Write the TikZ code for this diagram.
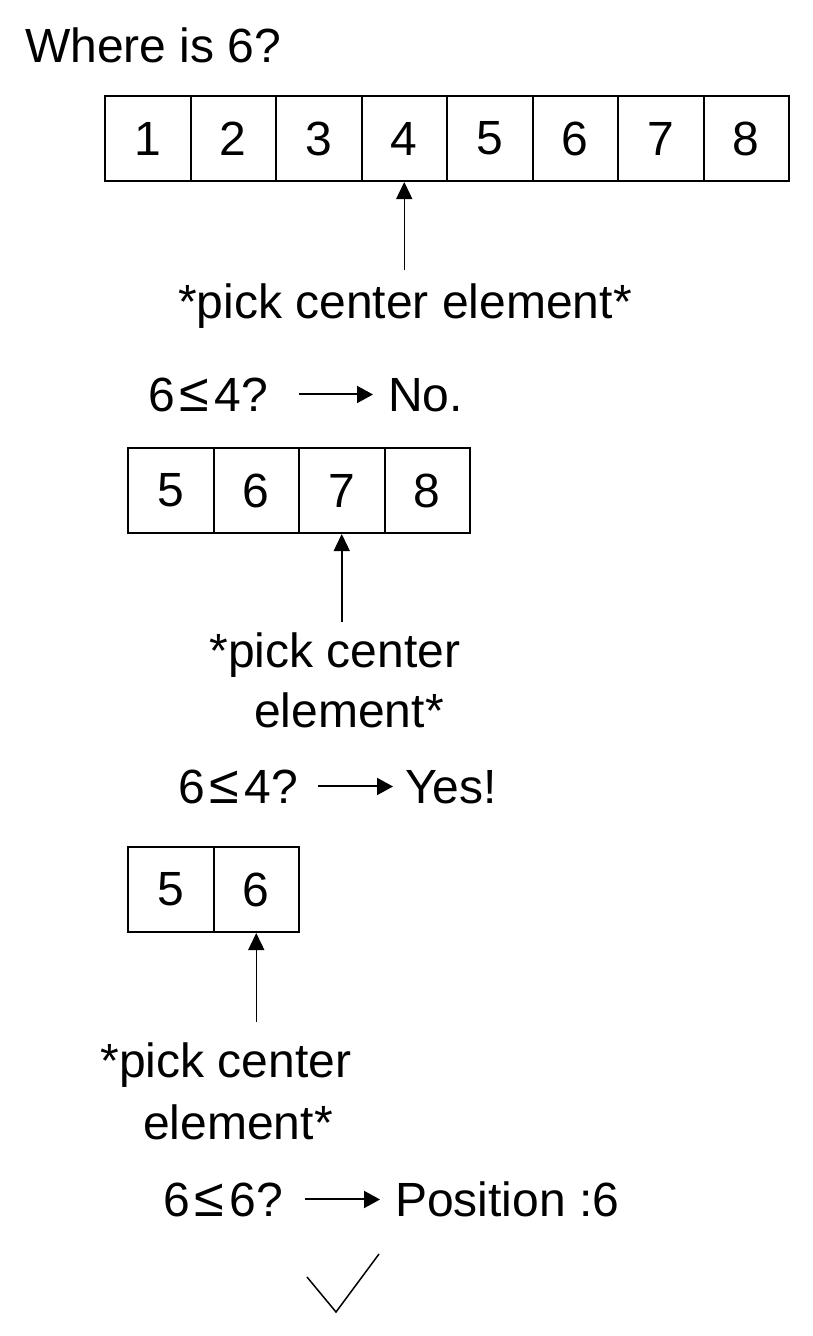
\documentclass[tikz,border=0pt]{standalone}
\usepackage{fontspec}
\setmainfont{Liberation Sans}
\usetikzlibrary{arrows.meta,calc}
\newcommand{\myleq}{\hspace{5pt}{\fontsize{54}{60}\selectfont ≤}\hspace{5pt}}
\begin{document}
\begin{tikzpicture}[x=1pt,y=-1pt,
  txt/.style={inner sep=0pt, font=\fontsize{48}{60}\selectfont},
  cell/.style={draw, line width=2pt, minimum width=85.5pt, minimum height=85pt, inner sep=0pt, font=\fontsize{48}{60}\selectfont},
  uparr/.style={line width=1.5pt, -{Triangle[length=17pt,width=16pt]}},
  rarr/.style={line width=2pt, -{Triangle[length=16pt,width=17pt]}},
]
\fill[white] (0,0) rectangle (813,1336);
\useasboundingbox (0,0) rectangle (813,1336);

\node[txt, anchor=base west] (title) at (25,62) {Where is 6?};

% row 1
\foreach \i in {1,...,8} {
  \node[cell] (a\i) at ({105+85.5*(\i-0.5)},138.5) {\i};
}
\node[txt, anchor=base] (l1) at (405,318) {*pick center element*};
\draw[uparr, shorten <=13pt] (l1.north -| a4.south) -- (a4.south);

\node[txt, anchor=base east] (q1) at (268,411) {6\myleq 4?};
\node[txt, anchor=base west] (r1) at (388,411) {No.};
\draw[rarr, shorten <=31pt, shorten >=15pt] (q1.east) -- (q1.east -| r1.west);

% row 2
\foreach \i/\v in {1/5,2/6,3/7,4/8} {
  \node[cell] (b\i) at ({128+85.5*(\i-0.5)},490.5) {\v};
}
\node[txt, align=center, anchor=north] (l2) at (335,633) {*pick center\\\hspace*{28pt}element*};
\draw[uparr, shorten <=11pt] (l2.north -| b3.south) -- (b3.south);

\node[txt, anchor=base east] (q2) at (298,803) {6\myleq 4?};
\node[txt, anchor=base west] (r2) at (405,803) {Yes!};
\draw[rarr, shorten <=20pt, shorten >=12pt] (q2.east) -- (q2.east -| r2.west);

% row 3
\foreach \i/\v in {1/5,2/6} {
  \node[cell] (c\i) at ({128+85.5*(\i-0.5)},889.5) {\v};
}
\node[txt, align=center, anchor=north, font=\fontsize{48}{62}\selectfont] (l3) at (226,1043) {*pick center\\\hspace*{24pt}element*};
\draw[uparr, shorten <=21pt] (l3.north -| c2.south) -- (c2.south);

\node[txt, anchor=base east] (q3) at (283,1216) {6\myleq 6?};
\node[txt, anchor=base west] (r3) at (395,1216) {Position :6};
\draw[rarr, shorten <=22pt, shorten >=15pt] (q3.east) -- (q3.east -| r3.west);

% check mark
\draw[line width=1.5pt] (307,1277) -- (336,1312) -- (379,1254);
\end{tikzpicture}
\end{document}
